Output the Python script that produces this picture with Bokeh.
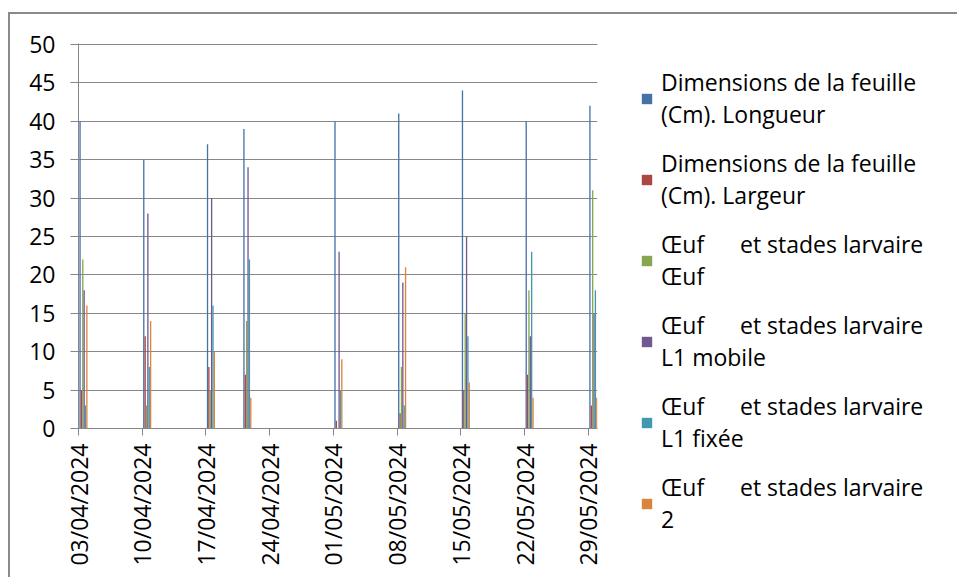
import pandas as pd
from bokeh.plotting import figure
from bokeh.models import (Legend, LegendItem, FixedTicker, DatetimeTickFormatter,
                          Range1d, ColumnDataSource)
from bokeh.transform import dodge
from bokeh.embed import file_html
from bokeh.resources import INLINE

# ---- data ----
dates = ["2024-04-03", "2024-04-10", "2024-04-17", "2024-04-21", "2024-05-01",
         "2024-05-08", "2024-05-15", "2024-05-22", "2024-05-29"]
longueur = [40, 35, 37, 39, 40, 41, 44, 40, 42]
largeur = [5, 12, 8, 7, 1, 2, 5, 7, 3]
oeuf = [22, 3, 5, 14, 0, 8, 15, 18, 31]
l1_mobile = [18, 28, 30, 34, 23, 19, 25, 12, 15]
l1_fixee = [3, 8, 16, 22, 5, 3, 12, 23, 18]
l2 = [16, 14, 10, 4, 9, 21, 6, 4, 4]
tick_dates = ["2024-04-03", "2024-04-10", "2024-04-17", "2024-04-24", "2024-05-01",
              "2024-05-08", "2024-05-15", "2024-05-22", "2024-05-29"]
y_ticks = [0, 5, 10, 15, 20, 25, 30, 35, 40, 45, 50]

sp = "\u00a0" * 6
series_names = [
    "Dimensions de la feuille\n(Cm). Longueur",
    "Dimensions de la feuille\n(Cm). Largeur",
    "Œuf" + sp + "et stades larvaire\nŒuf",
    "Œuf" + sp + "et stades larvaire\nL1 mobile",
    "Œuf" + sp + "et stades larvaire\nL1 fixée",
    "Œuf" + sp + "et stades larvaire\n2",
]
series_keys = ["longueur", "largeur", "oeuf", "l1_mobile", "l1_fixee", "l2"]
colors = ["#4572A7", "#AA4643", "#89A54E", "#71588F", "#4198AF", "#DB843D"]

src = ColumnDataSource(dict(date=pd.to_datetime(dates), longueur=longueur, largeur=largeur,
                            oeuf=oeuf, l1_mobile=l1_mobile, l1_fixee=l1_fixee, l2=l2))

DAY = 86400000.0
FONT = "Open Sans"

p = figure(x_axis_type="datetime", output_backend="svg", toolbar_location=None,
           frame_width=519, frame_height=385,
           min_border_left=68, min_border_top=29, min_border_bottom=149,
           min_border_right=10,
           x_range=Range1d(pd.Timestamp("2024-04-03"), pd.Timestamp("2024-05-30")),
           y_range=Range1d(0, 50.12))
p.margin = (12, 0, 0, 8)
p.styles = {"border-top": "2px solid #8a8a8a", "border-left": "2px solid #8a8a8a"}
p.outline_line_color = None
p.background_fill_color = "white"
p.border_fill_color = "white"

items = []
for i, (k, c, n) in enumerate(zip(series_keys, colors, series_names)):
    r = p.vbar(x=dodge("date", (0.17 + 0.15 * i) * DAY, range=p.x_range), top=k,
               width=0.145 * DAY, source=src, color=c, line_color=None)
    items.append(LegendItem(label=n, renderers=[r]))

p.xgrid.grid_line_color = None
p.ygrid.grid_line_color = "#878787"
p.ygrid.ticker = FixedTicker(ticks=y_ticks)

p.yaxis.ticker = FixedTicker(ticks=y_ticks)
p.xaxis.ticker = FixedTicker(ticks=[pd.Timestamp(d).value / 1e6 for d in tick_dates])
p.xaxis.formatter = DatetimeTickFormatter(days="%d/%m/%Y", months="%d/%m/%Y",
                                          years="%d/%m/%Y")
p.xaxis.major_label_orientation = 3.14159265 / 2
for ax in (p.xaxis[0], p.yaxis[0]):
    ax.axis_line_color = "#878787"
    ax.major_tick_line_color = "#878787"
    ax.minor_tick_line_color = None
    ax.major_tick_in = 0
    ax.major_label_text_font = FONT
    ax.major_label_text_font_size = "23px"
    ax.major_label_text_color = "#000000"
p.yaxis.major_tick_out = 8
p.yaxis.major_label_standoff = 15
p.xaxis.major_tick_out = 7
p.xaxis.major_label_standoff = 8

legend = Legend(items=items, location=(43, -107), orientation="vertical",
                label_text_font=FONT, label_text_font_size="23px",
                label_text_color="#000000", label_text_line_height=1.4,
                glyph_width=13, glyph_height=13, label_standoff=8, spacing=17,
                padding=0, margin=0, border_line_color=None,
                background_fill_alpha=0)
p.add_layout(legend, "right")

open("out.html", "w").write(file_html(p, INLINE))
